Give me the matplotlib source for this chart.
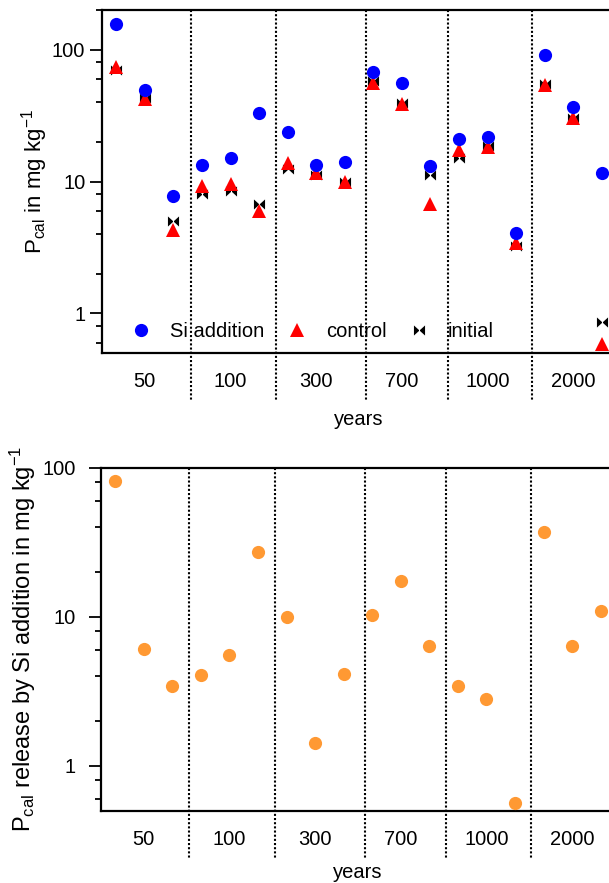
import numpy as np
import matplotlib
matplotlib.use("Agg")
import matplotlib.pyplot as plt
from matplotlib.path import Path

plt.rcParams['font.family'] = ['Liberation Sans', 'DejaVu Sans']
plt.rcParams['mathtext.fontset'] = 'custom'
plt.rcParams['mathtext.rm'] = 'Liberation Sans'
plt.rcParams['mathtext.it'] = 'Liberation Sans:italic'

# 18 samples, 3 per age group
group_labels = ['50', '100', '300', '700', '1000', '2000']
si_addition = [156, 49.4, 7.8, 13.4, 15.1, 33.1, 23.8, 13.4, 14.0,
               67.3, 56.3, 13.1, 21.0, 21.8, 4.1, 91, 37.0, 11.6]
control = [73.8, 42, 4.28, 9.26, 9.5, 6.0, 13.8, 11.6, 9.9,
           56, 39, 6.8, 17.4, 18.4, 3.4, 53.7, 30.5, 0.59]
initial = [69.7, 43.3, 5.03, 8.1, 8.5, 6.8, 12.4, 11.2, 9.9,
           57.5, 39.2, 11.2, 15.2, 18.6, 3.25, 55.2, 30.5, 0.86]
si_release = [81.4, 6.07, 3.44, 4.04, 5.58, 27, 10.0, 1.42, 4.12,
              10.2, 17.4, 6.38, 3.41, 2.82, 0.56, 36.8, 6.32, 11.0]

x = np.arange(1, len(si_addition) + 1)
label_pos = [2, 5, 8, 11, 14, 17]
dividers = [3.6, 6.6, 9.75, 12.6, 15.55]

# bowtie marker: two triangles pointing at each other
bowtie = Path([(-1.1, -1), (0, 0), (-1.1, 1), (-1.1, -1),
               (1.1, -1), (0, 0), (1.1, 1), (1.1, -1)],
              [Path.MOVETO, Path.LINETO, Path.LINETO, Path.CLOSEPOLY,
               Path.MOVETO, Path.LINETO, Path.LINETO, Path.CLOSEPOLY])

fig = plt.figure(figsize=(6.09, 8.83), dpi=100)
ax1 = fig.add_axes([0.1675, 0.6002, 0.844, 0.3885])
ax2 = fig.add_axes([0.1658, 0.0819, 0.844, 0.3884])


def style_axis(ax, ymax, ypad):
    ax.set_yscale('log')
    ax.set_ylim(0.5, ymax)
    ax.set_xlim(0.5, 18.5)
    ax.spines['right'].set_visible(False)
    for s in ['left', 'top', 'bottom']:
        ax.spines[s].set_linewidth(1.6)
    ax.yaxis.set_major_locator(matplotlib.ticker.FixedLocator([1, 10, 100]))
    ax.yaxis.set_major_formatter(matplotlib.ticker.FixedFormatter(['1', '10', '100']))
    minors = [m * 10.0 ** e for e in (-1, 0, 1, 2) for m in (2, 4, 6, 8)]
    ax.yaxis.set_minor_locator(matplotlib.ticker.FixedLocator(minors))
    ax.yaxis.set_minor_formatter(matplotlib.ticker.NullFormatter())
    ax.tick_params(axis='y', which='major', length=9, width=1.3, labelsize=14.5, pad=ypad)
    ax.tick_params(axis='y', which='minor', length=4, width=1.3)
    ax.set_xticks(label_pos)
    ax.set_xticklabels(group_labels)
    ax.tick_params(axis='x', length=0, labelsize=14.5, pad=14)
    for d in dividers:
        ax.plot([d, d], [1.0, -0.137], transform=ax.get_xaxis_transform(),
                color='black', lw=1.5, ls=(0, (1, 1)), clip_on=False, zorder=1)


style_axis(ax1, 200, 3)
style_axis(ax2, 100, 9)

h_init, = ax1.plot(x, initial, ls='none', marker=bowtie, ms=8, color='black',
                   mew=0, zorder=3)
h_ctrl, = ax1.plot(x, control, ls='none', marker='^', ms=9.5, color='#ff0000',
                   mew=0, zorder=4)
h_si, = ax1.plot(x, si_addition, ls='none', marker='o', ms=9.5, color='#0000ff',
                 mew=0, zorder=5)

ax1.legend([h_si, h_ctrl, h_init], ['Si addition', 'control', 'initial'],
           ncol=3, frameon=False, loc='center left', bbox_to_anchor=(0.056, 0.064),
           fontsize=14.5, handlelength=1, handletextpad=0.95, columnspacing=1.1,
           borderpad=0, borderaxespad=0)

ax2.plot(x, si_release, ls='none', marker='o', ms=9.5, color='#ff9933', mew=0, zorder=5)

ax1.set_ylabel(r'P$_{\mathrm{cal}}$ in mg kg$^{\mathrm{-1}}$', fontsize=16)
ax1.yaxis.set_label_coords(-0.101, 0.5)
ax2.set_ylabel(r'P$_{\mathrm{cal}}$ release by Si addition in mg kg$^{\mathrm{-1}}$', fontsize=17)
ax2.yaxis.set_label_coords(-0.1226, 0.5)

ax1.set_xlabel('years', fontsize=14.5)
ax1.xaxis.set_label_coords(0.5, -0.166)
ax2.set_xlabel('years', fontsize=14.5)
ax2.xaxis.set_label_coords(0.5, -0.152)

fig.savefig('out.png', dpi=100)
